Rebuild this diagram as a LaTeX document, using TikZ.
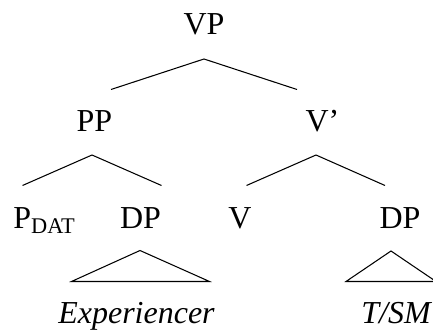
\documentclass[tikz,border=0pt]{standalone}
\usepackage{fontspec}
\setmainfont{Liberation Serif}
\usepackage{tikz}
\usetikzlibrary{positioning}

\begin{document}
\begin{tikzpicture}[every node/.style={inner sep=0pt, anchor=base, font=\fontsize{18.2}{20}\selectfont}, branch/.style={line width=0.6pt}]
    \useasboundingbox (0,0) rectangle (8.66,-6.62);

    % Top
    \node (vp) at (4.08,-0.70) {VP};
    \coordinate (vp-a) at (4.08,-1.18);
    \coordinate (vp-l) at (2.22,-1.79);
    \coordinate (vp-r) at (5.94,-1.79);
    \draw[branch] (vp-l) -- (vp-a) -- (vp-r);

    % Second level
    \node (pp) at (1.89,-2.63) {PP};
    \node (vbar) at (6.45,-2.63) {V’};
    \coordinate (pp-a) at (1.84,-3.10);
    \coordinate (pp-l) at (0.45,-3.71);
    \coordinate (pp-r) at (3.23,-3.71);
    \draw[branch] (pp-l) -- (pp-a) -- (pp-r);
    \coordinate (vbar-a) at (6.32,-3.10);
    \coordinate (vbar-l) at (4.93,-3.71);
    \coordinate (vbar-r) at (7.70,-3.71);
    \draw[branch] (vbar-l) -- (vbar-a) -- (vbar-r);

    % Third level
    \node[anchor=base west] (pdat) at (0.26,-4.57) {P\textsubscript{DAT}};
    \node (dpexp) at (2.81,-4.57) {DP};
    \node (v) at (4.80,-4.57) {V};
    \node (dpth) at (8.00,-4.57) {DP};

    % Triangles
    \coordinate (exp-a) at (2.80,-5.01);
    \draw[branch] (exp-a) -- (1.43,-5.63) -- (4.19,-5.63) -- cycle;
    \coordinate (th-a) at (7.82,-5.02);
    \draw[branch] (th-a) -- (6.92,-5.63) -- (8.72,-5.63) -- cycle;
    \node (exp) at (2.73,-6.47) {\itshape Experiencer};
    \node (th) at (7.92,-6.47) {\itshape T/SM};
\end{tikzpicture}
\end{document}
